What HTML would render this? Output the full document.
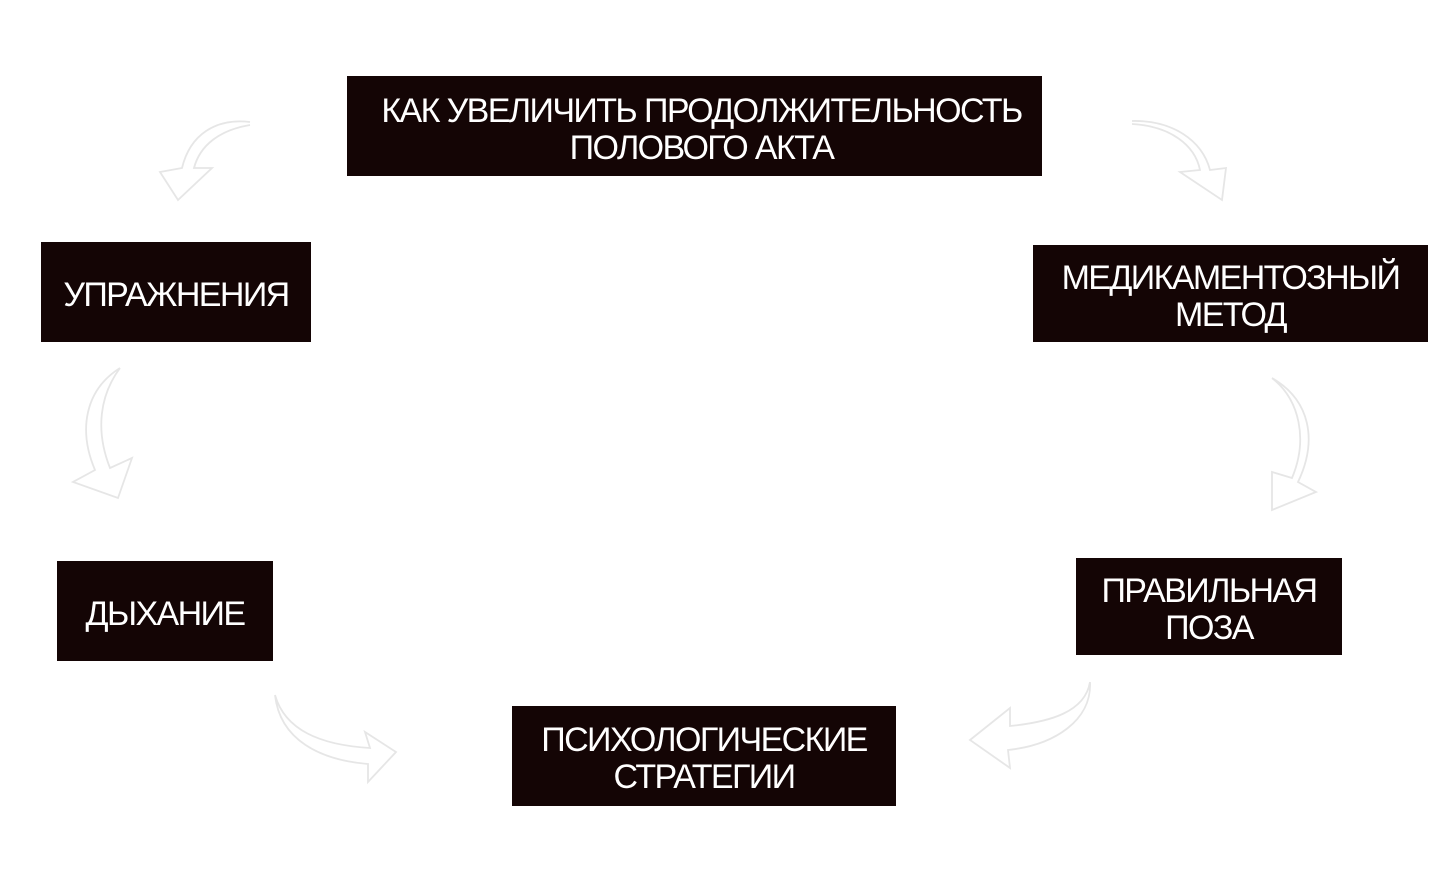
<!DOCTYPE html>
<html><head><meta charset="utf-8"><style>
html,body{margin:0;padding:0;background:#fff;}
body{width:1456px;height:878px;position:relative;overflow:hidden;font-family:"Liberation Sans",sans-serif;}
.b{position:absolute;background:#140505;color:#fff;display:flex;align-items:center;justify-content:center;text-align:center;font-size:34px;line-height:37px;letter-spacing:-1.6px;box-sizing:border-box;padding-top:6px;}
svg{position:absolute;left:0;top:0;}
</style></head><body>
<svg width="1456" height="878" fill="none" stroke="#e6e6e6" stroke-width="1.8">
<path d="M250 122 C215 118 190 135 182 168 L160 172 L178 200 L212 168 L194 168 C200 145 220 130 250 125"/>
<path d="M1132 124 C1170 126 1195 145 1200 170 L1180 172 L1222 200 L1226 168 L1210 170 C1202 140 1172 120 1132 121"/>
<path d="M120 368 C85 390 78 430 95 470 L73 482 L118 498 L132 458 L110 468 C95 430 100 395 120 368"/>
<path d="M1272 378 C1300 400 1308 440 1292 478 L1272 472 L1272 510 L1316 492 L1298 482 C1318 440 1310 400 1272 378"/>
<path d="M275 695 C285 730 320 745 370 748 L365 732 L396 752 L368 782 L368 764 C320 760 280 740 275 695"/>
<path d="M1090 682 C1085 712 1050 722 1010 726 L1010 708 L970 740 L1010 768 L1008 750 C1055 745 1092 720 1090 682"/>
</svg>
<div class="b" style="left:347px;top:76px;width:695px;height:100px;padding-left:14px;padding-top:8px;">КАК УВЕЛИЧИТЬ ПРОДОЛЖИТЕЛЬНОСТЬ<br>ПОЛОВОГО АКТА</div>
<div class="b" style="left:41px;top:242px;width:270px;height:100px;">УПРАЖНЕНИЯ</div>
<div class="b" style="left:1033px;top:245px;width:395px;height:97px;">МЕДИКАМЕНТОЗНЫЙ<br>МЕТОД</div>
<div class="b" style="left:57px;top:561px;width:216px;height:100px;">ДЫХАНИЕ</div>
<div class="b" style="left:1076px;top:558px;width:266px;height:97px;">ПРАВИЛЬНАЯ<br>ПОЗА</div>
<div class="b" style="left:512px;top:706px;width:384px;height:100px;">ПСИХОЛОГИЧЕСКИЕ<br>СТРАТЕГИИ</div>
</body></html>
